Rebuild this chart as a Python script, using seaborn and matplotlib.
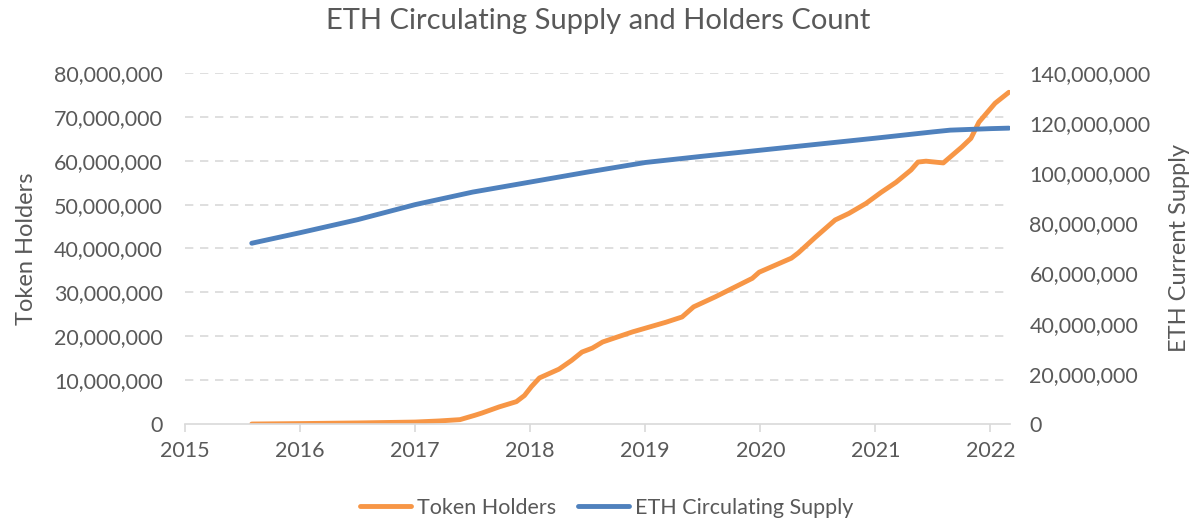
import numpy as np
import pandas as pd
import matplotlib
matplotlib.use('Agg')
import matplotlib.pyplot as plt
import matplotlib.ticker as mticker
import seaborn as sns

# token holders (left axis, millions)
holder_years = [2015.58, 2016.0, 2016.52, 2017.0, 2017.21, 2017.39, 2017.52, 2017.58, 2017.73,
                2017.88, 2017.95, 2018.01, 2018.08, 2018.25, 2018.36, 2018.45, 2018.54, 2018.63,
                2018.89, 2019.18, 2019.32, 2019.42, 2019.61, 2019.93, 2019.99, 2020.27, 2020.33,
                2020.48, 2020.65, 2020.77, 2020.92, 2021.05, 2021.18, 2021.31, 2021.37, 2021.44,
                2021.59, 2021.75, 2021.83, 2021.9, 2022.04, 2022.16]
holders_m = [0.0, 0.1, 0.25, 0.45, 0.7, 1.0, 2.0, 2.5, 3.9,
             5.1, 6.5, 8.5, 10.5, 12.5, 14.5, 16.4, 17.3, 18.7,
             21.0, 23.2, 24.4, 26.7, 29.0, 33.2, 34.6, 37.8, 39.0,
             42.6, 46.5, 48.0, 50.3, 52.8, 55.1, 57.9, 59.7, 59.9,
             59.5, 63.1, 65.1, 68.8, 73.1, 75.6]

# ETH supply (right axis, millions)
supply_years = [2015.58, 2016.0, 2016.5, 2017.0, 2017.5, 2018.0, 2018.5, 2019.0, 2019.5,
                2020.0, 2020.5, 2021.0, 2021.5, 2021.65, 2022.0, 2022.16]
supply_m = [72.1, 76.3, 81.5, 87.5, 92.5, 96.5, 100.5, 104.3, 106.8,
            109.2, 111.6, 114.0, 116.5, 117.2, 117.8, 118.0]

year_ticks = list(range(2015, 2023))

holders = pd.DataFrame({'year': holder_years, 'value': np.array(holders_m) * 1e6})
supply = pd.DataFrame({'year': supply_years, 'value': np.array(supply_m) * 1e6})

sns.set_theme(style='white')
plt.rcParams['font.family'] = ['Lato', 'DejaVu Sans']
txt = '#595959'
grid_c = '#d9d9d9'
orange = '#F79646'
blue = '#4F81BD'

fig = plt.figure(figsize=(11.96, 5.22), dpi=100)
ax = fig.add_axes([0.1547, 0.1877, 0.6898, 0.6725])
ax2 = ax.twinx()

sns.lineplot(data=holders, x='year', y='value', ax=ax, color=orange, linewidth=3.5,
             label='Token Holders', legend=False, solid_capstyle='round')
sns.lineplot(data=supply, x='year', y='value', ax=ax2, color=blue, linewidth=3.5,
             label='ETH Circulating Supply', legend=False, solid_capstyle='round')

ax.set_xlim(2015, 2022.17)
ax.set_ylim(0, 80e6)
ax2.set_ylim(0, 140e6)
ax.set_xticks(year_ticks)
ax.set_yticks(np.arange(0, 80e6 + 1, 10e6))
ax2.set_yticks(np.arange(0, 140e6 + 1, 20e6))
fmt = mticker.FuncFormatter(lambda v, p: f'{v:,.0f}')
ax.yaxis.set_major_formatter(fmt)
ax2.yaxis.set_major_formatter(fmt)

for a in (ax, ax2):
    for s in a.spines.values():
        s.set_visible(False)
    a.tick_params(axis='y', length=0, labelsize=15.5, labelcolor=txt, pad=16)
ax.spines['bottom'].set_visible(True)
ax.spines['bottom'].set_color(grid_c)
ax.spines['bottom'].set_linewidth(1.2)
ax.tick_params(axis='x', length=6, width=1.2, color=grid_c, labelsize=15.5, labelcolor=txt, pad=6,
               bottom=True)
ax2.tick_params(axis='y', pad=14)

for v in np.arange(10e6, 80e6 + 1, 10e6):
    ax.axhline(v, color=grid_c, linestyle=(0, (5, 4)), linewidth=1.2, zorder=0)

ax.set_xlabel('')
ax.set_ylabel('Token Holders', fontsize=17, color=txt, labelpad=12)
ax2.set_ylabel('ETH Current Supply', fontsize=17, color=txt, labelpad=13)
ax2.set_xlabel('')

fig.suptitle('ETH Circulating Supply and Holders Count', fontsize=21, color=txt, y=0.985)

h1, l1 = ax.get_legend_handles_labels()
h2, l2 = ax2.get_legend_handles_labels()
fig.legend(h1 + h2, l1 + l2, loc='center', bbox_to_anchor=(0.507, 0.027), ncol=2,
           frameon=False, fontsize=15.5, labelcolor=txt, handlelength=2.4,
           handletextpad=0.25, columnspacing=1.0)

fig.savefig('out.png', dpi=100)
